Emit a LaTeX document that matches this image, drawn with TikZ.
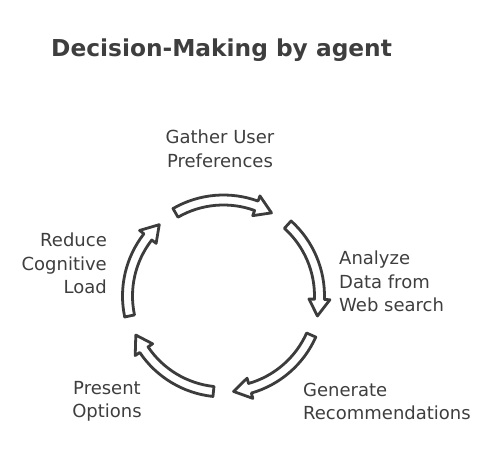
\documentclass[tikz,border=0pt]{standalone}
\usepackage{fontspec}
\setmainfont{DejaVu Sans}
\definecolor{ink}{HTML}{3C3C3C}
\definecolor{txt}{HTML}{3E3E3E}
\tikzset{
  cyc/.style={draw=ink, fill=white, line width=2.8pt, line join=round},
  lbl/.style={text=txt, font=\fontsize{18}{23.5}\selectfont, inner sep=0pt},
  ttl/.style={text=txt, font=\bfseries\fontsize{23.3}{26}\selectfont, inner sep=0pt}
}
\begin{document}
\begin{tikzpicture}[x=1pt,y=1pt]
\useasboundingbox (0,0) rectangle (498,-468);
\coordinate (C) at (223.5,-296);
\def\R{96}
\def\w{5}
\def\h{10.5}
\def\hd{10}
\pgfmathsetmacro\Ro{\R+\w}
\pgfmathsetmacro\Ri{\R-\w}
\pgfmathsetmacro\Rho{\R+\h}
\pgfmathsetmacro\Rhi{\R-\h}
\foreach \a/\b [count=\i] in {120/60, 48/-12, -24/-84, -96/-156, -168/-228}{
  \pgfmathsetmacro\c{\b+\hd}
  \draw[cyc] ([shift={(C)}]\a:\Ro pt) coordinate (arr\i)
     arc[start angle=\a, end angle=\c, radius=\Ro pt]
     -- ([shift={(C)}]\c:\Rho pt)
     -- ([shift={(C)}]\b:\R pt)
     -- ([shift={(C)}]\c:\Rhi pt)
     -- ([shift={(C)}]\c:\Ri pt)
     arc[start angle=\c, end angle=\a, radius=\Ri pt]
     -- cycle;
}
\node[ttl, anchor=west] (title) at (51,-50) {Decision-Making by agent};
\node[lbl, align=center] (gather) at (220,-149) {Gather User\\Preferences};
\node[lbl, align=left, anchor=west] (analyze) at (339,-281.5) {Analyze\\Data from\\Web search};
\node[lbl, align=left, anchor=west] (generate) at (303,-401.5) {Generate\\Recommendations};
\node[lbl, align=center] (present) at (107,-401.5) {Present\\Options};
\node[lbl, align=right, anchor=east] (reduce) at (107,-263.5) {Reduce\\Cognitive\\Load};
\end{tikzpicture}
\end{document}
